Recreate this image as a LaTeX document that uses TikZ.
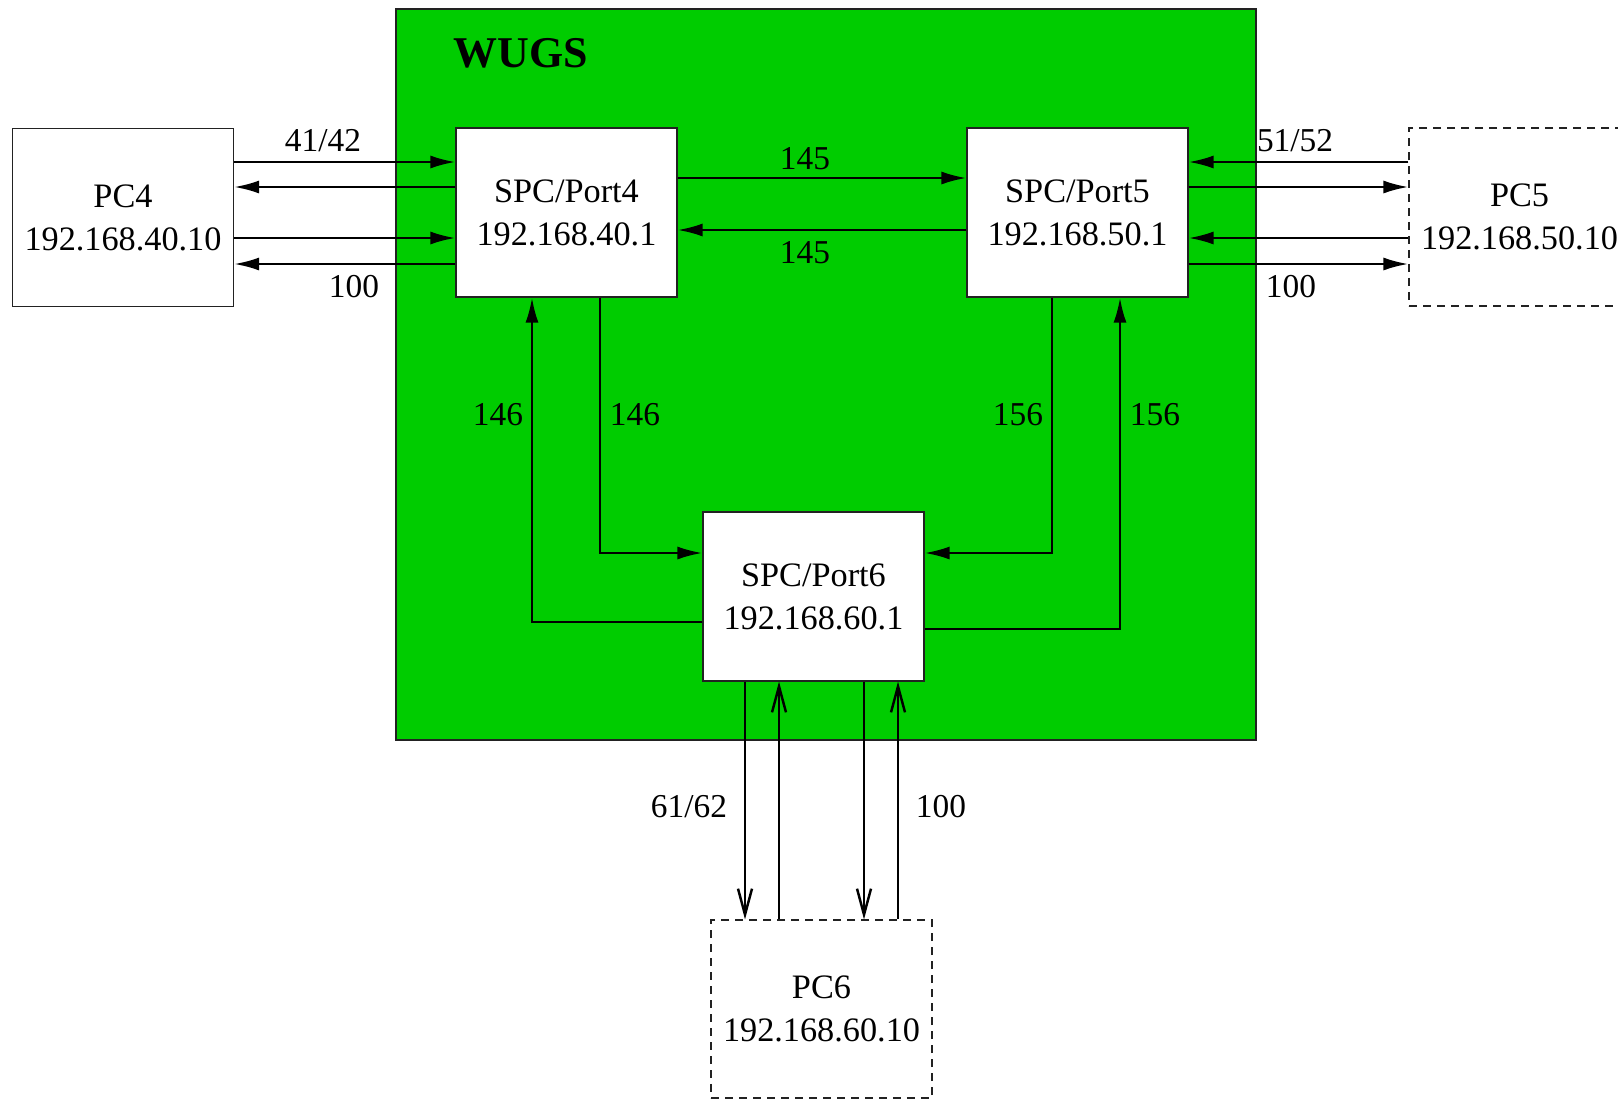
\documentclass[tikz,border=0pt]{standalone}
\usepackage{fontspec}
\setmainfont{Liberation Serif}
\usepackage{xcolor}
\definecolor{wugsbg}{HTML}{00CC00}
\definecolor{wugsln}{HTML}{222222}
\usepackage{tikz}
\usetikzlibrary{arrows.meta,positioning,calc}

\begin{document}
\begin{tikzpicture}[x=0.02cm,y=-0.02cm,
  box/.style={draw=wugsln,fill=white,line width=0.7pt,align=center,inner sep=0pt,
    minimum width=4.42cm,minimum height=3.38cm,font=\fontsize{19.5}{24.4}\selectfont},
  pcbox/.style={box,minimum height=3.56cm},
  dbox/.style={pcbox,dash pattern=on 0.16cm off 0.12cm},
  arr/.style={line width=1.4pt,-{Latex[length=0.5cm,width=0.26cm]}},
  oarr/.style={line width=1.4pt,-{Straight Barb[length=0.52cm,width=0.28cm]}},
  lbl/.style={font=\fontsize{19}{22}\selectfont,inner sep=0pt}]
\useasboundingbox (0,0) rectangle (1618,1099);
% switch
\draw[draw=wugsln,fill=wugsbg,line width=0.9pt] (396,9) rectangle (1256,740);
\node[font=\bfseries\fontsize{25}{30}\selectfont] (wugs) at (521,53) {WUGS};
% ports and hosts
\node[pcbox] (pc4) at (123,217.5) {PC4\\192.168.40.10};
\node[box] (port4) at (566.5,212.5) {SPC/Port4\\192.168.40.1};
\node[box] (port5) at (1077.5,212.5) {SPC/Port5\\192.168.50.1};
\node[dbox] (pc5) at (1519.5,217) {PC5\\192.168.50.10};
\node[box] (port6) at (813.5,596.5) {SPC/Port6\\192.168.60.1};
\node[dbox] (pc6) at (821.5,1009) {PC6\\192.168.60.10};
% PC4 <-> Port4
\draw[arr] (pc4.east |- 0,162) -- (port4.west |- 0,162);
\draw[arr] (port4.west |- 0,187) -- (pc4.east |- 0,187);
\draw[arr] (pc4.east |- 0,238) -- (port4.west |- 0,238);
\draw[arr] (port4.west |- 0,264) -- (pc4.east |- 0,264);
\node[lbl] (l41) at (323,141) {41/42};
\node[lbl] (l40) at (354,287) {100};
% Port4 <-> Port5
\draw[arr] (port4.east |- 0,178) -- (port5.west |- 0,178);
\draw[arr] (port5.west |- 0,230) -- (port4.east |- 0,230);
\node[lbl] (l45a) at (805,159) {145};
\node[lbl] (l45b) at (805,253) {145};
% Port5 <-> PC5
\draw[arr] (pc5.west |- 0,162) -- (port5.east |- 0,162);
\draw[arr] (port5.east |- 0,187) -- (pc5.west |- 0,187);
\draw[arr] (pc5.west |- 0,238) -- (port5.east |- 0,238);
\draw[arr] (port5.east |- 0,264) -- (pc5.west |- 0,264);
\node[lbl] (l51) at (1295,141) {51/52};
\node[lbl] (l50) at (1291,287) {100};
% Port4 <-> Port6
\draw[arr] (port6.west |- 0,622) -| (port4.south -| 532,0);
\draw[arr] (port4.south -| 600,0) |- (port6.west |- 0,553);
\node[lbl] (l46a) at (498,415) {146};
\node[lbl] (l46b) at (635,415) {146};
% Port5 <-> Port6
\draw[arr] (port5.south -| 1052,0) |- (port6.east |- 0,553);
\draw[arr] (port6.east |- 0,629) -| (port5.south -| 1120,0);
\node[lbl] (l56a) at (1018,415) {156};
\node[lbl] (l56b) at (1155,415) {156};
% Port6 <-> PC6
\draw[oarr] (port6.south -| 745,0) -- (pc6.north -| 745,0);
\draw[oarr] (pc6.north -| 779,0) -- (port6.south -| 779,0);
\draw[oarr] (port6.south -| 864,0) -- (pc6.north -| 864,0);
\draw[oarr] (pc6.north -| 898,0) -- (port6.south -| 898,0);
\node[lbl] (l61) at (689,807) {61/62};
\node[lbl] (l60) at (941,807) {100};
\end{tikzpicture}
\end{document}
